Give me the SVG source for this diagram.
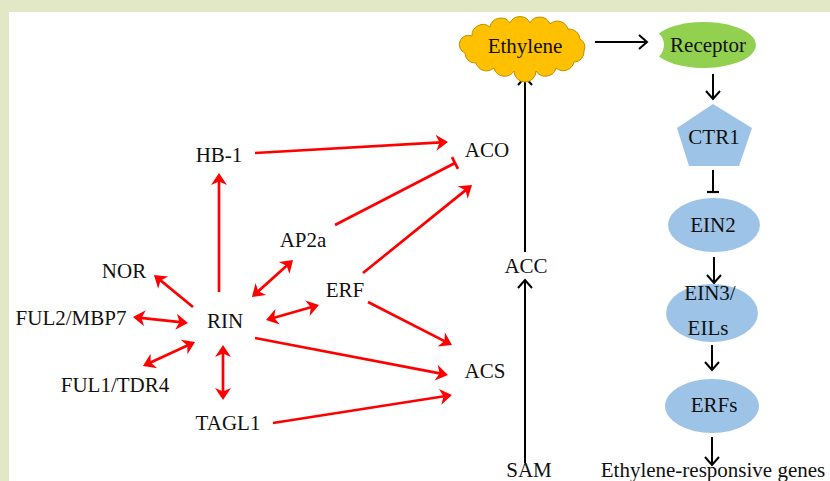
<svg xmlns="http://www.w3.org/2000/svg" width="830" height="481" viewBox="0 0 830 481">
<defs>
<style>
text{font-family:"Liberation Serif","Times New Roman",serif;font-size:21px;fill:#111;text-anchor:middle}
.r{stroke:#FF0000;stroke-width:2.7;fill:none}
.k{stroke:#000;stroke-width:2;fill:none}
.blue{fill:#9DC3E6}
</style>
<marker id="ra" markerUnits="userSpaceOnUse" markerWidth="30" markerHeight="30" viewBox="-15 -15 30 30" refX="0" refY="0" orient="auto-start-reverse" overflow="visible">
<path d="M3,0 L-9,-8 L-5.5,0 L-9,8 Z" fill="#FF0000"/>
</marker>
<marker id="rt" markerUnits="userSpaceOnUse" markerWidth="30" markerHeight="30" viewBox="-15 -15 30 30" refX="0" refY="0" orient="auto" overflow="visible">
<path d="M0,-6.5 L0,6.5" stroke="#FF0000" stroke-width="2.7"/>
</marker>
<marker id="ka" markerUnits="userSpaceOnUse" markerWidth="30" markerHeight="30" viewBox="-15 -15 30 30" refX="0" refY="0" orient="auto" overflow="visible">
<path d="M-8,-7 L0,0 L-8,7" fill="none" stroke="#000" stroke-width="2"/>
</marker>
<marker id="kt" markerUnits="userSpaceOnUse" markerWidth="30" markerHeight="30" viewBox="-15 -15 30 30" refX="0" refY="0" orient="auto" overflow="visible">
<path d="M0,-6 L0,6" stroke="#000" stroke-width="2.2"/>
</marker>
</defs>
<rect x="0" y="0" width="830" height="481" fill="#E2E8C6"/>
<rect x="9" y="12" width="821" height="469" fill="#FFFFFF"/>

<g id="connectors">
<line class="r" x1="219" y1="292" x2="219" y2="176" marker-end="url(#ra)"/>
<line class="r" x1="255" y1="153" x2="445" y2="142.2" marker-end="url(#ra)"/>
<line class="r" x1="335" y1="225" x2="455" y2="163" marker-end="url(#rt)"/>
<line class="r" x1="363" y1="273" x2="469.7" y2="186.9" marker-end="url(#ra)"/>
<line class="r" x1="254.2" y1="295" x2="290.8" y2="262" marker-start="url(#ra)" marker-end="url(#ra)"/>
<line class="r" x1="268.9" y1="319.2" x2="316.1" y2="305.8" marker-start="url(#ra)" marker-end="url(#ra)"/>
<line class="r" x1="368" y1="302" x2="449.3" y2="343.6" marker-end="url(#ra)"/>
<line class="r" x1="255" y1="338" x2="445" y2="374.4" marker-end="url(#ra)"/>
<line class="r" x1="273" y1="423" x2="449" y2="395.5" marker-end="url(#ra)"/>
<line class="r" x1="223" y1="348" x2="223" y2="397" marker-start="url(#ra)" marker-end="url(#ra)"/>
<line class="r" x1="193" y1="307" x2="156.3" y2="276.9" marker-end="url(#ra)"/>
<line class="r" x1="136" y1="317.3" x2="185" y2="322.7" marker-start="url(#ra)" marker-end="url(#ra)"/>
<line class="r" x1="192.3" y1="343.3" x2="145.7" y2="364.7" marker-start="url(#ra)" marker-end="url(#ra)"/>

<line class="k" x1="525" y1="252" x2="525" y2="77" marker-end="url(#ka)"/>
<line class="k" x1="525" y1="463" x2="525" y2="280" marker-end="url(#ka)"/>
<line class="k" x1="595" y1="42" x2="647" y2="42" marker-end="url(#ka)"/>
<line class="k" x1="713" y1="74" x2="713" y2="99" marker-end="url(#ka)"/>
<line class="k" x1="713" y1="170" x2="713" y2="192" marker-end="url(#kt)"/>
<line class="k" x1="714" y1="257" x2="714" y2="283" marker-end="url(#ka)"/>
<line class="k" x1="712" y1="345" x2="712" y2="370" marker-end="url(#ka)"/>
<line class="k" x1="712" y1="437" x2="712" y2="465" marker-end="url(#ka)"/>
</g>

<g id="ethylene">
<path d="M472,36 A11,11 0 0 1 490,27 A11,11 0 0 1 510,23 A11,11 0 0 1 530,23 A11,11 0 0 1 550,24 A11,11 0 0 1 568,29 A11,11 0 0 1 580,39 A9,9 0 0 1 584,51 A10,10 0 0 1 574,62 A11,11 0 0 1 556,68 A11,11 0 0 1 536,71 A11,11 0 0 1 514,71 A11,11 0 0 1 494,68 A11,11 0 0 1 476,63 A10,10 0 0 1 465,53 A8,8 0 0 1 472,36 Z" fill="#FFC000" stroke="#BF9000" stroke-width="1"/>
<text x="525" y="53">Ethylene</text>
</g>
<g id="receptor">
<path d="M659,33.4 A52,23 0 1 1 659,56.6 A16,16 0 0 0 659,33.4 Z" fill="#92D050"/>
<text x="708" y="52">Receptor</text>
</g>
<g id="ctr1">
<polygon points="713,104 752,128 739,166 689,166 677,128" class="blue"/>
<text x="714" y="144">CTR1</text>
</g>
<g id="ein2">
<ellipse cx="714" cy="225" rx="46" ry="27" class="blue"/>
<text x="713" y="232">EIN2</text>
</g>
<g id="ein3">
<ellipse cx="712" cy="313" rx="46" ry="29" class="blue"/>
<text x="710" y="300">EIN3/</text>
<text x="708" y="335">EILs</text>
</g>
<g id="erfs">
<ellipse cx="712" cy="406" rx="47" ry="27" class="blue"/>
<text x="714" y="412">ERFs</text>
</g>
<g id="genes"><text x="713" y="477">Ethylene-responsive genes</text></g>
<g id="acc"><text x="526" y="273">ACC</text></g>
<g id="sam"><text x="529" y="477">SAM</text></g>
<g id="aco"><text x="487" y="157">ACO</text></g>
<g id="acs"><text x="485" y="378">ACS</text></g>
<g id="hb1"><text x="219" y="162">HB-1</text></g>
<g id="ap2a"><text x="303" y="247">AP2a</text></g>
<g id="erf"><text x="345" y="297">ERF</text></g>
<g id="rin"><text x="225" y="328">RIN</text></g>
<g id="nor"><text x="124" y="278">NOR</text></g>
<g id="ful2"><text x="71" y="325">FUL2/MBP7</text></g>
<g id="ful1"><text x="115" y="392">FUL1/TDR4</text></g>
<g id="tagl1"><text x="228" y="430">TAGL1</text></g>
</svg>
